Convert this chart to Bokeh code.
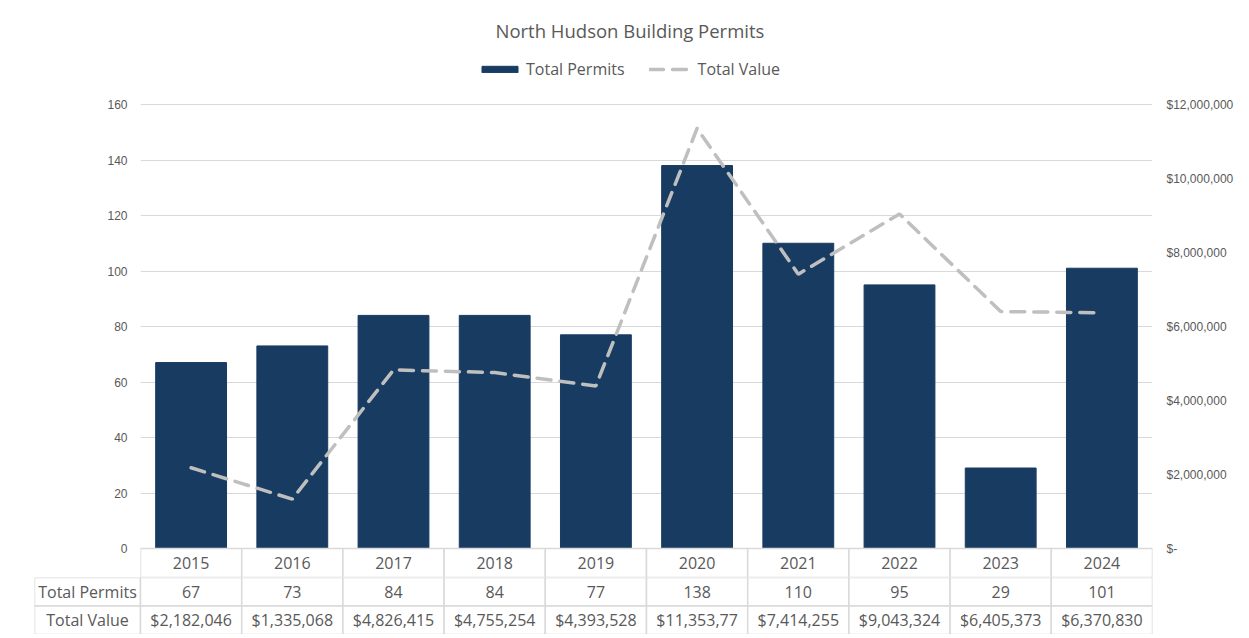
from bokeh.plotting import figure
from bokeh.models import (Range1d, LinearAxis, FixedTicker, CustomJSTickFormatter,
                          Legend, LegendItem)
from bokeh.layouts import column
from bokeh.embed import file_html
from bokeh.resources import INLINE
from bokeh.core.properties import value

# ---- data ----
years = ["2015", "2016", "2017", "2018", "2019", "2020", "2021", "2022", "2023", "2024"]
total_permits = [67, 73, 84, 84, 77, 138, 110, 95, 29, 101]
total_value = [2182046, 1335068, 4826415, 4755254, 4393528, 11353770, 7414255, 9043324, 6405373, 6370830]
left_ticks = [0, 20, 40, 60, 80, 100, 120, 140, 160]
right_ticks = [0, 2000000, 4000000, 6000000, 8000000, 10000000, 12000000]
row_headers = ["Total Permits", "Total Value"]

BAR = "#183B62"
LINE = "#BFBFBF"
GRID = "#D9D9D9"
TXT = "#595959"
FONT = "Open Sans"
AXFONT = "Liberation Sans"

idx = list(range(len(years)))

# geometry (pixels)
FRAME_W = 1012
PLOT_H = 444          # 0..160
ROW_H = 29            # year row inside top figure
TOP_H = 54            # legend band inside top frame
PER_CAT = FRAME_W / len(years)
y_lo = -ROW_H / PLOT_H * 160
y_hi = 160 + TOP_H / PLOT_H * 160
FRAME_H = PLOT_H + ROW_H + TOP_H

p = figure(frame_width=FRAME_W, frame_height=FRAME_H,
           x_range=Range1d(-0.5, len(years) - 0.5), y_range=Range1d(y_lo, y_hi),
           output_backend="svg", toolbar_location=None,
           min_border_left=140, min_border_right=95, min_border_top=50, min_border_bottom=0,
           title="North Hudson Building Permits")
p.outline_line_color = None
p.title.align = "left"
p.title.offset = 355
p.title.standoff = 16
p.title.text_font = FONT
p.title.text_font_size = "18.5px"
p.title.text_font_style = "normal"
p.title.text_color = TXT

p.xaxis.visible = False
p.xgrid.visible = False
ya = p.yaxis[0]
ya.ticker = FixedTicker(ticks=left_ticks)
ya.axis_line_color = None
ya.major_tick_line_color = None
ya.minor_tick_line_color = None
ya.major_tick_out = 0
ya.major_tick_in = 0
ya.major_label_text_font = AXFONT
ya.major_label_text_font_size = "12px"
ya.major_label_text_color = TXT
ya.major_label_standoff = 13
p.ygrid.ticker = FixedTicker(ticks=left_ticks)
p.ygrid.grid_line_color = GRID

p.extra_y_ranges = {"val": Range1d(y_lo / 160 * 12000000, y_hi / 160 * 12000000)}
ra = LinearAxis(y_range_name="val", ticker=FixedTicker(ticks=right_ticks))
ra.formatter = CustomJSTickFormatter(code="""
if (tick == 0) { return '$-'; }
return '$' + tick.toLocaleString('en-US');
""")
ra.axis_line_color = None
ra.major_tick_line_color = None
ra.minor_tick_line_color = None
ra.major_tick_out = 0
ra.major_tick_in = 0
ra.major_label_text_font = AXFONT
ra.major_label_text_font_size = "12px"
ra.major_label_text_color = TXT
ra.major_label_standoff = 14
p.add_layout(ra, "right")

bars = p.vbar(x=idx, top=total_permits, bottom=0, width=0.7, fill_color=BAR, line_color=BAR)
ln = p.line(x=idx, y=total_value, y_range_name="val", line_color=LINE, line_width=3.5,
            line_dash="14 9", line_cap="round")

# year row of the data table
yr_y = y_lo / 2
p.rect(x=idx, y=[yr_y] * len(idx), width=1, height=-y_lo, fill_color="white",
       line_color=GRID, line_width=1.5)
p.text(x=idx, y=[yr_y] * len(idx), text=years, text_align="center", text_baseline="middle",
       text_font=value(FONT), text_font_size="16px", text_color=TXT)

legend = Legend(items=[LegendItem(label="Total Permits", renderers=[bars]),
                       LegendItem(label="Total Value", renderers=[ln])],
                orientation="horizontal", location=(337, FRAME_H - 30),
                label_text_font=FONT, label_text_font_size="16px", label_text_color=TXT,
                glyph_width=45, glyph_height=8, spacing=24, label_standoff=4,
                border_line_color=None, background_fill_alpha=0, margin=0, padding=4)
p.add_layout(legend)

# ---- lower table rows ----
HEAD_W = 106 / PER_CAT
x0 = -0.5 - HEAD_W
t = figure(frame_width=FRAME_W + 106, frame_height=57,
           x_range=Range1d(x0, len(years) - 0.5), y_range=Range1d(0, 2),
           output_backend="svg", toolbar_location=None,
           min_border_left=34, min_border_right=95, min_border_top=0, min_border_bottom=0)
t.outline_line_color = None
t.xaxis.visible = False
t.yaxis.visible = False
t.grid.visible = False

for fig in (p, t):
    if "frame_align" in fig.properties():
        fig.frame_align = False

head_x = (x0 + -0.5) / 2
row_y = [1.5, 0.5]
t.rect(x=[head_x, head_x], y=row_y, width=HEAD_W, height=1, fill_color="white",
       line_color=GRID, line_width=1.5)
t.text(x=[head_x, head_x], y=row_y, text=row_headers, text_align="center", text_baseline="middle",
       text_font=value(FONT), text_font_size="16px", text_color=TXT)

value_labels = [("$" + f"{v:,}")[:10] for v in total_value]
permit_labels = [str(v) for v in total_permits]
t.rect(x=idx + idx, y=[1.5] * len(idx) + [0.5] * len(idx), width=1, height=1,
       fill_color="white", line_color=GRID, line_width=1.5)
t.text(x=idx, y=[1.5] * len(idx), text=permit_labels, text_align="center", text_baseline="middle",
       text_font=value(FONT), text_font_size="16px", text_color=TXT)
t.text(x=idx, y=[0.5] * len(idx), text=value_labels, text_align="center", text_baseline="middle",
       text_font=value(FONT), text_font_size="16px", text_color=TXT)

layout = column(p, t, spacing=0)
open("out.html", "w").write(file_html(layout, INLINE))
